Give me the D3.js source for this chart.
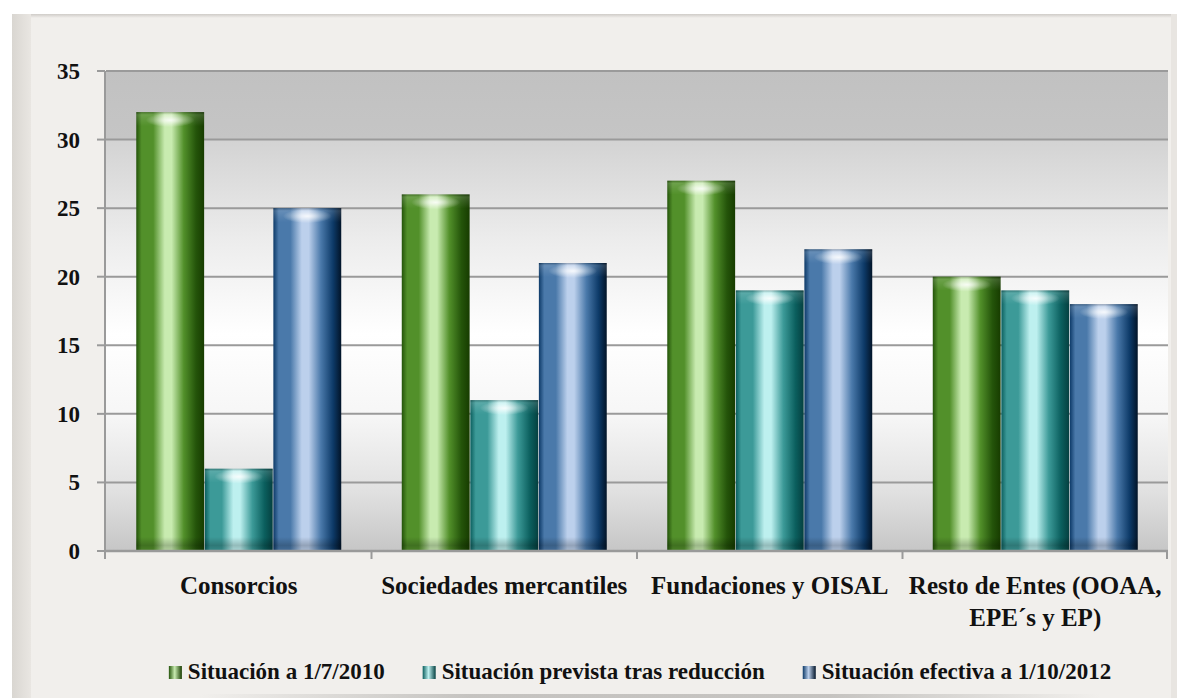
<!DOCTYPE html>
<html>
<head>
<meta charset="utf-8">
<script src="https://cdn.jsdelivr.net/npm/d3@7"></script>
<style>
  html, body { margin: 0; padding: 0; background: #ffffff; }
  svg { display: block; }
</style>
</head>
<body>
<svg id="chart" width="1186" height="698"></svg>
<script>
// ---- data ----
const categories = ["Consorcios", "Sociedades mercantiles", "Fundaciones y OISAL", "Resto de Entes (OOAA, EPE´s y EP)"];
const seriesNames = ["Situación a 1/7/2010", "Situación prevista tras reducción", "Situación efectiva a 1/10/2012"];
const situacion2010 = [32, 26, 27, 20];
const situacionPrevista = [6, 11, 19, 19];
const situacionEfectiva = [25, 21, 22, 18];
const yTicks = [0, 5, 10, 15, 20, 25, 30, 35];

const seriesValues = [situacion2010, situacionPrevista, situacionEfectiva];
const seriesColors = [
  { dark: "#24540a", mid: "#52902a", light: "#c8ebb0", edge: "#173c00" },
  { dark: "#0b5f5e", mid: "#3c9a98", light: "#bdf0ef", edge: "#054040" },
  { dark: "#0d3a68", mid: "#4a79aa", light: "#bcd0ec", edge: "#021428" }
];

const FONT = "'Liberation Serif'";
const svg = d3.select("#chart");
const W = 1186, H = 698;
const plot = { left: 106, right: 1168, top: 71, bottom: 551 };

function styleText(sel, size) {
  return sel.style("font-family", FONT).attr("font-weight", "bold").attr("font-size", size).style("fill", "#111");
}

const defs = svg.append("defs");

// ---- background card ----
const paper = defs.append("linearGradient").attr("id", "leftStrip").attr("x1", 0).attr("x2", 1);
paper.append("stop").attr("offset", "0%").attr("stop-color", "#d9d6d1");
paper.append("stop").attr("offset", "100%").attr("stop-color", "#e9e6e2");
const topShade = defs.append("linearGradient").attr("id", "topShade").attr("x1", 0).attr("x2", 0).attr("y1", 0).attr("y2", 1);
topShade.append("stop").attr("offset", "0%").attr("stop-color", "#cfccc8");
topShade.append("stop").attr("offset", "100%").attr("stop-color", "#f1efec");

svg.append("rect").attr("x", 0).attr("y", 0).attr("width", W).attr("height", H).attr("fill", "#ffffff");
svg.append("rect").attr("x", 12).attr("y", 14).attr("width", 1165).attr("height", H - 14).attr("fill", "#f1efec");
svg.append("rect").attr("x", 12).attr("y", 14).attr("width", 1165).attr("height", 4).attr("fill", "url(#topShade)");
svg.append("rect").attr("x", 12).attr("y", 14).attr("width", 19).attr("height", H - 14).attr("fill", "url(#leftStrip)");
svg.append("rect").attr("x", 1171).attr("y", 14).attr("width", 6).attr("height", H - 14).attr("fill", "#e8e5e1");
const bottomShade = defs.append("linearGradient").attr("id", "bottomShade").attr("x1", 0).attr("x2", 1);
bottomShade.append("stop").attr("offset", "0%").attr("stop-color", "#f1efec");
bottomShade.append("stop").attr("offset", "30%").attr("stop-color", "#a8a6a3");
bottomShade.append("stop").attr("offset", "70%").attr("stop-color", "#a8a6a3");
bottomShade.append("stop").attr("offset", "100%").attr("stop-color", "#f1efec");
svg.append("rect").attr("x", 200).attr("y", 694).attr("width", 900).attr("height", 4).attr("fill", "url(#bottomShade)").attr("opacity", 0.6);

// ---- plot area background ----
const bg = defs.append("linearGradient").attr("id", "plotBg").attr("x1", 0).attr("x2", 0).attr("y1", 0).attr("y2", 1);
[["0%", "#c1c1c1"], ["14%", "#c5c5c5"], ["14.5%", "#d3d3d3"], ["35%", "#ececec"], ["55%", "#ffffff"], ["72%", "#f6f6f6"], ["88%", "#e0e0e0"], ["100%", "#c6c6c6"]]
  .forEach(([o, c]) => bg.append("stop").attr("offset", o).attr("stop-color", c));
svg.append("rect").attr("x", plot.left).attr("y", plot.top)
  .attr("width", plot.right - plot.left).attr("height", plot.bottom - plot.top).attr("fill", "url(#plotBg)");

// ---- scales ----
const y = d3.scaleLinear().domain([0, 35]).range([plot.bottom, plot.top]);
const x0 = d3.scaleBand().domain(categories).range([plot.left, plot.right]).paddingInner(0.228).paddingOuter(0.114);
const x1 = d3.scaleBand().domain(d3.range(seriesNames.length)).range([0, x0.bandwidth()]).paddingInner(0.01);

// ---- gridlines ----
svg.append("g").selectAll("line").data(yTicks.filter(t => t > 0)).join("line")
  .attr("x1", plot.left).attr("x2", plot.right)
  .attr("y1", d => y(d)).attr("y2", d => y(d))
  .attr("stroke", "#9a9a9a").attr("stroke-width", 2);

// ---- gradients for bars ----
seriesColors.forEach((c, i) => {
  const g = defs.append("linearGradient").attr("id", "barGrad" + i).attr("x1", 0).attr("x2", 1).attr("y1", 0).attr("y2", 0);
  [["0%", c.dark], ["8%", c.mid], ["25%", c.mid], ["42%", c.light], ["52%", c.light], ["70%", c.mid], ["88%", c.dark], ["100%", c.edge]]
    .forEach(([o, col]) => g.append("stop").attr("offset", o).attr("stop-color", col));
});
const hl = defs.append("radialGradient").attr("id", "topHighlight");
hl.append("stop").attr("offset", "0%").attr("stop-color", "#ffffff").attr("stop-opacity", 0.85);
hl.append("stop").attr("offset", "55%").attr("stop-color", "#ffffff").attr("stop-opacity", 0.35);
hl.append("stop").attr("offset", "100%").attr("stop-color", "#ffffff").attr("stop-opacity", 0);
const topBand = defs.append("linearGradient").attr("id", "topBand").attr("x1", 0).attr("x2", 0).attr("y1", 0).attr("y2", 1);
topBand.append("stop").attr("offset", "0%").attr("stop-color", "#000").attr("stop-opacity", 0.25);
topBand.append("stop").attr("offset", "20%").attr("stop-color", "#fff").attr("stop-opacity", 0.15);
topBand.append("stop").attr("offset", "100%").attr("stop-color", "#fff").attr("stop-opacity", 0);
const botBand = defs.append("linearGradient").attr("id", "botBand").attr("x1", 0).attr("x2", 0).attr("y1", 0).attr("y2", 1);
botBand.append("stop").attr("offset", "0%").attr("stop-color", "#000").attr("stop-opacity", 0);
botBand.append("stop").attr("offset", "60%").attr("stop-color", "#000").attr("stop-opacity", 0.22);
botBand.append("stop").attr("offset", "100%").attr("stop-color", "#000").attr("stop-opacity", 0.1);

// ---- bars ----
const rows = categories.map((cat, ci) => ({ cat, vals: seriesValues.map(s => s[ci]) }));
const groups = svg.append("g").selectAll("g").data(rows).join("g")
  .attr("transform", d => `translate(${x0(d.cat)},0)`);
const bars = groups.selectAll("g.bar").data(d => d.vals.map((v, si) => ({ v, si }))).join("g").attr("class", "bar");
bars.append("rect")
  .attr("x", d => x1(d.si)).attr("y", d => y(d.v))
  .attr("width", x1.bandwidth()).attr("height", d => y(0) - y(d.v))
  .attr("fill", d => `url(#barGrad${d.si})`);
bars.append("rect")
  .attr("x", d => x1(d.si)).attr("y", d => y(d.v))
  .attr("width", x1.bandwidth()).attr("height", 14)
  .attr("fill", "url(#topBand)");
bars.append("ellipse")
  .attr("cx", d => x1(d.si) + x1.bandwidth() / 2).attr("cy", d => y(d.v) + 8)
  .attr("rx", x1.bandwidth() * 0.36).attr("ry", 7)
  .attr("fill", "url(#topHighlight)");
bars.append("rect")
  .attr("x", d => x1(d.si)).attr("y", y(0) - 14)
  .attr("width", x1.bandwidth()).attr("height", 14)
  .attr("fill", "url(#botBand)");

// ---- axes ----
const axisColor = "#9a9a9a";
svg.append("line").attr("x1", plot.left - 1).attr("x2", plot.left - 1).attr("y1", plot.top).attr("y2", plot.bottom + 8)
  .attr("stroke", axisColor).attr("stroke-width", 2);
svg.append("line").attr("x1", plot.left - 1).attr("x2", plot.right).attr("y1", plot.bottom).attr("y2", plot.bottom)
  .attr("stroke", axisColor).attr("stroke-width", 2.5);
// y ticks
const yAxis = svg.append("g");
yAxis.selectAll("line").data(yTicks).join("line")
  .attr("x1", plot.left - 9).attr("x2", plot.left - 1)
  .attr("y1", d => y(d)).attr("y2", d => y(d))
  .attr("stroke", axisColor).attr("stroke-width", 2);
styleText(yAxis.selectAll("text").data(yTicks).join("text")
  .attr("x", 80).attr("y", d => y(d)).attr("dy", "0.35em")
  .attr("text-anchor", "end"), 23)
  .text(d => d);
// x ticks at category boundaries
const bounds = categories.map(c => x0(c) - x0.step() * x0.paddingInner() / 2 + x0.step());
svg.append("g").selectAll("line").data(bounds).join("line")
  .attr("x1", d => Math.min(d, plot.right - 1)).attr("x2", d => Math.min(d, plot.right - 1))
  .attr("y1", plot.bottom).attr("y2", plot.bottom + 8)
  .attr("stroke", axisColor).attr("stroke-width", 2);

// ---- category labels (wrapped) ----
const labelG = svg.append("g");
categories.forEach(cat => {
  const cx = x0(cat) + x0.bandwidth() / 2;
  const t = styleText(labelG.append("text").attr("x", cx).attr("y", 594).attr("text-anchor", "middle"), 25);
  const words = cat.split(" ");
  let line = [], lineNo = 0;
  let ts = t.append("tspan").attr("x", cx).attr("y", 594);
  words.forEach(w => {
    line.push(w);
    ts.text(line.join(" "));
    if (ts.node().getComputedTextLength() > 262 && line.length > 1) {
      line.pop();
      ts.text(line.join(" "));
      line = [w];
      lineNo++;
      ts = t.append("tspan").attr("x", cx).attr("y", 594 + lineNo * 32).text(w);
    }
  });
});

// ---- legend ----
seriesColors.forEach((c, i) => {
  const g = defs.append("linearGradient").attr("id", "legGrad" + i).attr("x1", 0).attr("x2", 1);
  [["0%", c.dark], ["45%", c.light], ["100%", c.edge]].forEach(([o, col]) => g.append("stop").attr("offset", o).attr("stop-color", col));
});
const legend = svg.append("g");
const items = legend.selectAll("g").data(seriesNames).join("g");
items.append("rect").attr("x", 0).attr("y", 666).attr("width", 13).attr("height", 13)
  .attr("fill", (d, i) => `url(#legGrad${i})`);
styleText(items.append("text").attr("x", 19).attr("y", 679), 23).text(d => d);
let cursor = 0;
const gap = 38;
const widths = [];
items.each(function () { widths.push(19 + d3.select(this).select("text").node().getComputedTextLength()); });
const total = d3.sum(widths) + gap * (widths.length - 1);
cursor = 640 - total / 2;
items.each(function (d, i) {
  d3.select(this).attr("transform", `translate(${cursor},0)`);
  cursor += widths[i] + gap;
});
</script>
</body>
</html>
